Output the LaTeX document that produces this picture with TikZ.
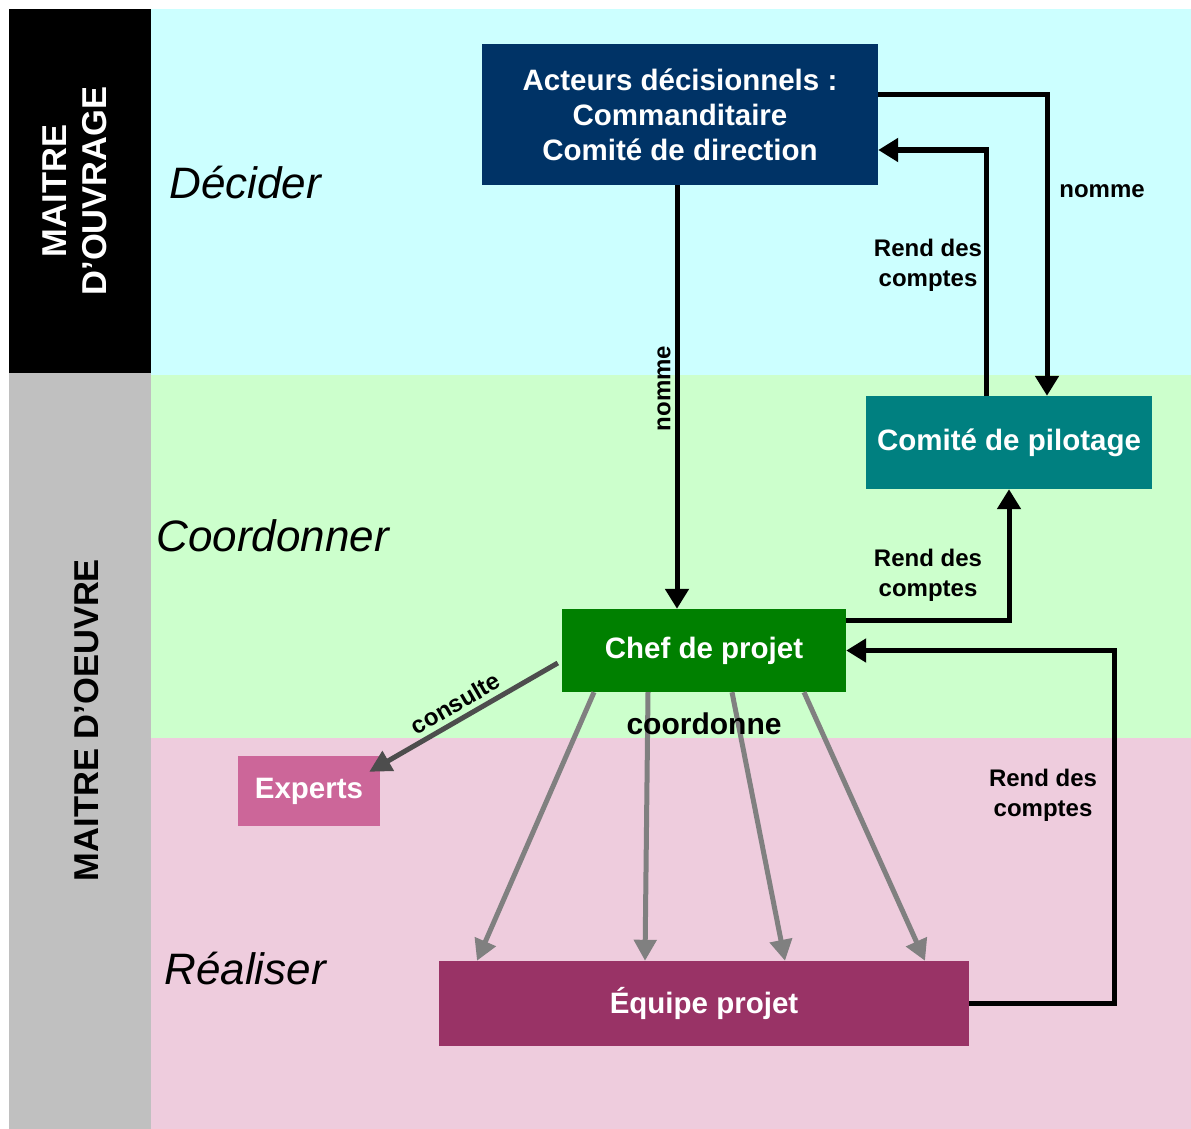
\documentclass[tikz,border=0pt]{standalone}
\usepackage{fontspec}
\setmainfont{Liberation Sans}
\usepackage{xcolor}
\usetikzlibrary{arrows.meta}
\definecolor{decide}{HTML}{CCFFFF}
\definecolor{coord}{HTML}{CCFFCC}
\definecolor{realise}{HTML}{EECCDD}
\definecolor{moecol}{HTML}{C0C0C0}
\definecolor{actcol}{HTML}{003366}
\definecolor{copilcol}{HTML}{008080}
\definecolor{chefcol}{HTML}{008000}
\definecolor{expcol}{HTML}{CC6699}
\definecolor{eqcol}{HTML}{993366}
\definecolor{coordarrow}{HTML}{808080}
\definecolor{consarrow}{HTML}{4D4D4D}

\begin{document}
\begin{tikzpicture}[x=1pt,y=-1pt,
  box/.style={text=white,font=\fontsize{29.5}{35}\selectfont\bfseries,align=center,inner sep=0pt},
  lane/.style={font=\fontsize{44}{50}\selectfont\itshape,anchor=west},
  side/.style={rotate=90,font=\fontsize{34.5}{40}\selectfont\bfseries,align=center},
  lbl/.style={font=\fontsize{24}{30}\selectfont\bfseries,align=center},
  arr/.style={line width=5pt,-{Triangle[length=20pt,width=23pt]}},
  coordarr/.style={line width=5pt,draw=coordarrow,-{Triangle[length=21pt,width=22pt]}}]
\useasboundingbox (0,0) rectangle (1191,1129);
\fill[decide] (151,9) rectangle (1191,375);
\fill[coord] (151,375) rectangle (1191,738);
\fill[realise] (151,738) rectangle (1191,1129);
\fill[black] (9,9) rectangle (151,373);
\fill[moecol] (9,373) rectangle (151,1129);
\node[side,text=white] (moa) at (75,191) {MAITRE\\D’OUVRAGE};
\node[side] (moe) at (87,720) {MAITRE D’OEUVRE};
\node[lane] (decider) at (166,183) {Décider};
\node[lane] (coordonner) at (153,536) {Coordonner};
\node[lane] (realiser) at (161,969) {Réaliser};
\node[box,fill=actcol,minimum width=396pt,minimum height=141pt] (act) at (680,114.5) {Acteurs décisionnels :\\Commanditaire\\Comité de direction};
\node[box,fill=copilcol,minimum width=286pt,minimum height=93pt] (copil) at (1009,442.5) {Comité de pilotage};
\node[box,fill=chefcol,minimum width=284pt,minimum height=83pt] (chef) at (704,650.5) {Chef de projet};
\node[box,fill=expcol,minimum width=142pt,minimum height=70pt] (experts) at (309,791) {Experts};
\node[box,fill=eqcol,minimum width=530pt,minimum height=85pt] (equipe) at (704,1003.5) {Équipe projet};
\draw[arr] ([yshift=19.5pt]act.east) -| ([xshift=38pt]copil.north);
\draw[arr] ([xshift=-23pt]copil.north) |- ([yshift=-35.5pt]act.east);
\draw[arr] ([xshift=-3pt]act.south) -- ([xshift=-3pt]act.south |- chef.north)
  node[pos=0.48,rotate=90,anchor=south,lbl,inner sep=4pt] {nomme};
\draw[arr] ([yshift=30.5pt]chef.east) -| (copil.south);
\draw[arr] (equipe.east) -| ([xshift=268pt]chef.east) -- (chef.east);
\draw[line width=5pt,draw=consarrow,-{Triangle[length=22pt,width=22pt]}] ([xshift=-4pt,yshift=-12.5pt]chef.west) -- ([xshift=-11pt,yshift=-16pt]experts.north east)
  node[midway,sloped,above,lbl,inner sep=5pt] {consulte};
\draw[coordarr] ([xshift=-110pt]chef.south) -- ([xshift=-227pt]equipe.north);
\draw[coordarr] ([xshift=-56pt]chef.south) -- ([xshift=-59pt]equipe.north);
\draw[coordarr] ([xshift=28pt]chef.south) -- ([xshift=81pt]equipe.north);
\draw[coordarr] ([xshift=100pt]chef.south) -- ([xshift=221pt]equipe.north);
\node[lbl] (nomcopil) at (1102,191) {nomme};
\node[lbl] (rendact) at (928,265) {Rend des\\comptes};
\node[lbl] (rendcopil) at (928,575) {Rend des\\comptes};
\node[lbl] (rendchef) at (1043,795) {Rend des\\comptes};
\node[font=\fontsize{30}{36}\selectfont\bfseries] (coordonne) at (704,724) {coordonne};
\end{tikzpicture}
\end{document}
